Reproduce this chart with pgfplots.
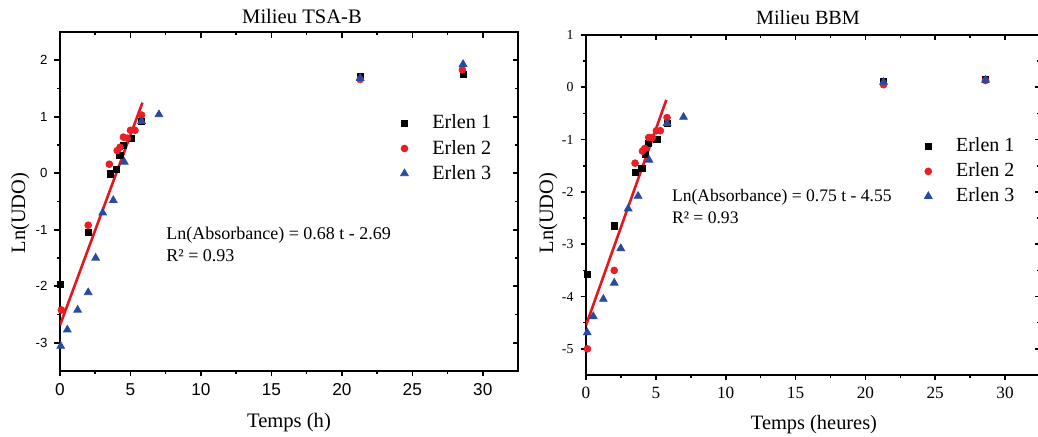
\documentclass[border=0pt]{standalone}
\usepackage{fontspec}
\setmainfont{Liberation Serif}
\setsansfont{Liberation Sans}
\usepackage{pgfplots}
\usepackage{pgfplotstable}
\pgfplotsset{compat=1.18}
\definecolor{eblue}{RGB}{40,75,160}
\definecolor{ered}{RGB}{232,32,38}
\definecolor{lred}{RGB}{228,24,28}

\pgfplotstableread{
t y
0.05 -1.97
2.0 -1.04
3.55 -0.01
4.0 0.07
4.25 0.32
4.5 0.50
5.08 0.61
5.77 0.92
21.3 1.72
28.6 1.75
}\LaA
\pgfplotstableread{
t y
0.1 -2.42
2.0 -0.92
3.5 0.16
4.06 0.40
4.26 0.46
4.5 0.64
4.78 0.62
5.0 0.76
5.32 0.76
5.79 1.03
21.3 1.66
28.55 1.83
}\LaB
\pgfplotstableread{
t y
0.05 -3.06
0.52 -2.77
1.25 -2.42
2.0 -2.11
2.53 -1.50
3.03 -0.70
3.78 -0.48
4.56 0.20
5.79 0.92
7.02 1.04
21.3 1.68
28.6 1.93
}\LaC
\pgfplotstableread{
t y
0.09 -3.57
2.02 -2.65
3.51 -1.63
4.0 -1.55
4.25 -1.29
4.49 -1.08
5.08 -1.00
5.8 -0.69
21.3 0.12
28.6 0.15
}\RaA
\pgfplotstableread{
t y
0.1 -5.0
2.02 -3.5
3.51 -1.45
4.04 -1.22
4.2 -1.17
4.49 -0.96
4.75 -0.96
5.04 -0.83
5.32 -0.83
5.8 -0.58
21.3 0.05
28.6 0.13
}\RaB
\pgfplotstableread{
t y
0.09 -4.69
0.52 -4.38
1.24 -4.05
2.02 -3.74
2.49 -3.08
3.02 -2.32
3.73 -2.08
4.51 -1.39
5.8 -0.69
6.98 -0.57
21.3 0.10
28.6 0.14
}\RaC

\pgfplotsset{
  panel/.style={
    scale only axis, xmin=0, xmax=32.5,
    axis line style={line width=0.8pt},
    every tick/.style={black, line width=0.8pt},
    major tick length=2.75pt, minor tick length=1.5pt,
    minor x tick num=1, minor y tick num=1,
    xtick={0,5,...,30},
    /pgf/number format/assume math mode=true,
    legend cell align=left,
  },
  mirror/.style={
    scale only axis, xmin=0, xmax=32.5,
    axis line style={draw=none},
    every tick/.style={black, line width=0.8pt},
    major tick length=2.75pt, minor tick length=1.5pt,
    minor x tick num=1, minor y tick num=1,
    xtick={0,5,...,30},
    tick align=inside, xtick pos=right, ytick pos=right,
    xticklabels={}, yticklabels={},
  },
  s1/.style={only marks, mark=square*, mark size=1.55pt, black},
  s2/.style={only marks, mark=*, mark size=1.7pt, ered, mark options={draw=ered, fill=ered}},
  s3/.style={only marks, mark=triangle*, mark size=2.2pt, eblue, mark options={draw=eblue, fill=eblue}},
}

\begin{document}
\begin{tikzpicture}
\useasboundingbox (0,0) rectangle (519pt,218.5pt);
\clip (0,0) rectangle (519pt,218.5pt);

% ---------- left panel ----------
\begin{axis}[panel,
  at={(30pt,33pt)}, anchor=south west, width=229pt, height=169.5pt,
  ymin=-3.5, ymax=2.5, ytick={-3,-2,...,2},
  tick align=outside, xtick pos=left, ytick pos=left,
  xticklabel style={font=\sffamily\fontsize{8.6}{10}\selectfont},
  yticklabel style={font=\sffamily\fontsize{6.6}{8}\selectfont},
  legend style={draw=none, fill=none, at={(axis cs:23.72,1.18)}, anchor=north west,
    font=\fontsize{10.1}{12}\selectfont,
    /tikz/every odd column/.append style={column sep=10pt}},
]
\addplot[s1] table[x=t,y=y] {\LaA};
\addlegendentry{Erlen 1}
\addplot[s2] table[x=t,y=y] {\LaB};
\addlegendentry{Erlen 2}
\addplot[s3] table[x=t,y=y] {\LaC};
\addlegendentry{Erlen 3}
\addplot[lred, line width=1.3pt, forget plot] coordinates {(0,-2.69) (5.85,1.25)};
\node[anchor=base west, inner sep=0pt, font=\fontsize{9}{11}\selectfont] at (axis cs:7.52,-1.175) {Ln(Absorbance) = 0.68 t - 2.69};
\node[anchor=base west, inner sep=0pt, font=\fontsize{9}{11}\selectfont] at (axis cs:7.52,-1.56) {R² = 0.93};
\end{axis}
\begin{axis}[mirror,
  at={(30pt,33pt)}, anchor=south west, width=229pt, height=169.5pt,
  ymin=-3.5, ymax=2.5, ytick={-3,-2,...,2}]
\end{axis}

% ---------- right panel ----------
\begin{axis}[panel,
  at={(293pt,31pt)}, anchor=south west, width=227pt, height=170pt,
  ymin=-5.5, ymax=1, ytick={-5,-4,...,1},
  tick align=outside, xtick pos=left, ytick pos=left,
  xticklabel style={font=\rmfamily\fontsize{8.6}{10}\selectfont},
  yticklabel style={font=\rmfamily\fontsize{6.9}{8}\selectfont},
  legend style={draw=none, fill=none, at={(axis cs:23.77,-0.81)}, anchor=north west,
    font=\fontsize{10}{12.5}\selectfont,
    /tikz/every odd column/.append style={column sep=10pt}},
]
\addplot[s1] table[x=t,y=y] {\RaA};
\addlegendentry{Erlen 1}
\addplot[s2] table[x=t,y=y] {\RaB};
\addlegendentry{Erlen 2}
\addplot[s3] table[x=t,y=y] {\RaC};
\addlegendentry{Erlen 3}
\addplot[lred, line width=1.3pt, forget plot] coordinates {(0,-4.55) (5.75,-0.24)};
\node[anchor=base west, inner sep=0pt, font=\fontsize{8.8}{11}\selectfont] at (axis cs:6.13,-2.18) {Ln(Absorbance) = 0.75 t - 4.55};
\node[anchor=base west, inner sep=0pt, font=\fontsize{8.8}{11}\selectfont] at (axis cs:6.13,-2.6) {R² = 0.93};
\end{axis}
\begin{axis}[mirror,
  at={(293pt,31pt)}, anchor=south west, width=227pt, height=170pt,
  ymin=-5.5, ymax=1, ytick={-5,-4,...,1}]
\end{axis}

% ---------- titles and labels ----------
\node[anchor=base, inner sep=0pt, font=\fontsize{10.3}{12}\selectfont] at (151pt,206.5pt) {Milieu TSA-B};
\node[anchor=base, inner sep=0pt, font=\fontsize{10.1}{12}\selectfont] at (404pt,206pt) {Milieu BBM};
\node[anchor=base, inner sep=0pt, font=\fontsize{10.3}{12}\selectfont] at (144.5pt,4.5pt) {Temps (h)};
\node[anchor=base, inner sep=0pt, font=\fontsize{10.2}{12}\selectfont] at (407pt,3.5pt) {Temps (heures)};
\node[anchor=base, rotate=90, inner sep=0pt, font=\fontsize{10.2}{12}\selectfont] at (12.5pt,112pt) {Ln(UDO)};
\node[anchor=base, rotate=90, inner sep=0pt, font=\fontsize{10.2}{12}\selectfont] at (276.5pt,112pt) {Ln(UDO)};
\end{tikzpicture}
\end{document}
